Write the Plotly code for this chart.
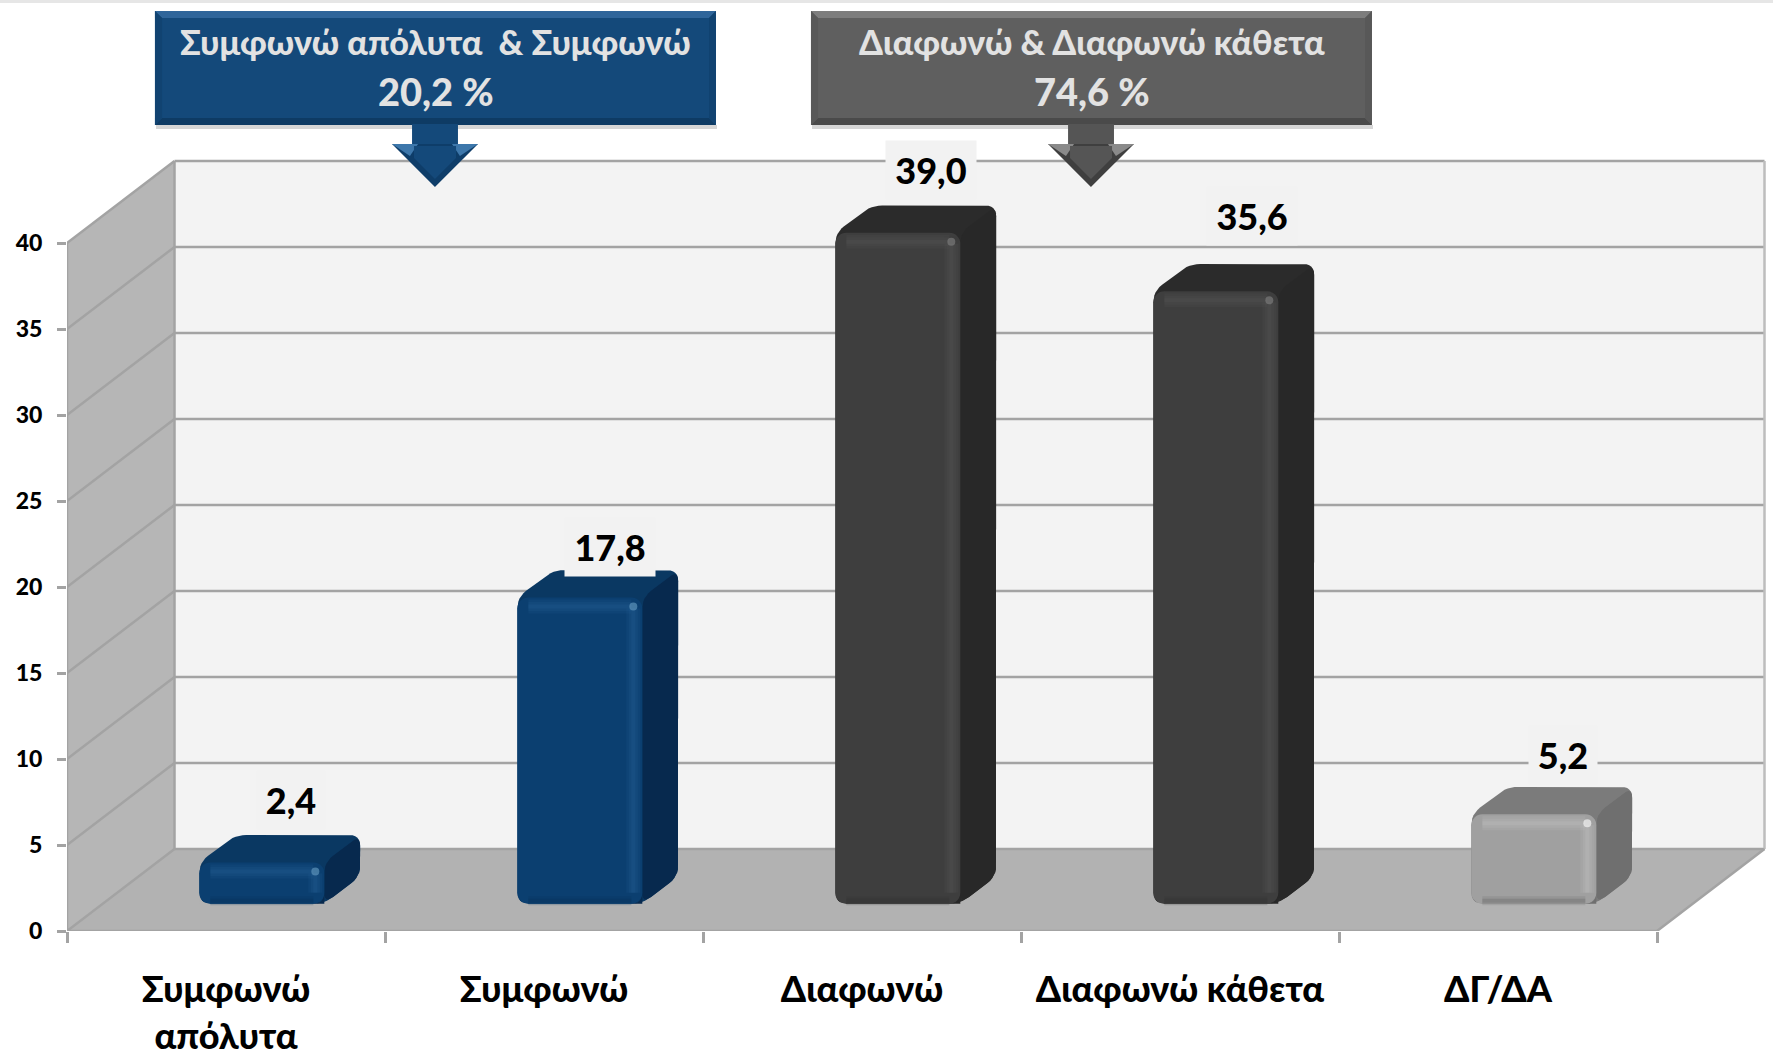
import plotly.graph_objects as go

categories = ["Συμφωνώ<br>απόλυτα", "Συμφωνώ", "Διαφωνώ", "Διαφωνώ κάθετα", "ΔΓ/ΔΑ"]
values = [2.4, 17.8, 39.0, 35.6, 5.2]
value_labels = ["2,4", "17,8", "39,0", "35,6", "5,2"]
y_ticks = [0, 5, 10, 15, 20, 25, 30, 35, 40]
callout_left = ["Συμφωνώ απόλυτα  & Συμφωνώ", "20,2 %"]
callout_right = ["Διαφωνώ & Διαφωνώ κάθετα", "74,6 %"]

FONT = "Lato, 'Noto Sans', sans-serif"
WEIGHT = 900
W, H = 1773, 1058
X0, Y0, UX, UV, DPX, DPY = 67, 931, 318.0, 17.2, 107.5, 82.0
DX, DY = DPX / UX, DPY / UV
XMAX, YMAX = 5.36, 45.0
BAR_W, D1, D2, R = 0.393, 1 / 3, 2 / 3, 11
GRID, WALL, FLOOR, BACK = "#a3a3a3", "#b6b6b6", "#b2b2b2", "#f3f3f3"

STYLES = [
    dict(front="#0b3f70", side="#07294e", top="#0a3862", bevel="#2a659a", low="#08325a", spot="#5d93bb"),
    dict(front="#0b3f70", side="#07294e", top="#0a3862", bevel="#2a659a", low="#08325a", spot="#5d93bb"),
    dict(front="#3e3e3e", side="#282828", top="#2b2b2b", bevel="#5a5a5a", low="#333333", spot="#7a7a7a"),
    dict(front="#3e3e3e", side="#282828", top="#2b2b2b", bevel="#5a5a5a", low="#333333", spot="#7a7a7a"),
    dict(front="#a0a0a0", side="#6f6f6f", top="#7b7b7b", bevel="#c8c8c8", low="#6a6a6a", spot="#f4f4f4"),
]
# label centre relative to the bar's rear top edge, pixels
LABEL_SHIFT = [(-7, 35), (-6, 23), (-3, 36), (0, 48), (-7, 32)]
LABEL_WIDTH = [66, 88, 88, 88, 66]


def proj(x, v, d):
    return x + d * DX, v + d * DY


def rounded(points, r):
    """Round the corners of a polygon given in data units; r is in pixels."""
    px = [(p[0] * UX, p[1] * UV) for p in points]
    out = []
    n = len(px)
    for i in range(n):
        a, b, c = px[i - 1], px[i], px[(i + 1) % n]
        la = ((a[0] - b[0]) ** 2 + (a[1] - b[1]) ** 2) ** 0.5
        lc = ((c[0] - b[0]) ** 2 + (c[1] - b[1]) ** 2) ** 0.5
        ra, rc = min(r, la / 2), min(r, lc / 2)
        s = (b[0] + (a[0] - b[0]) * ra / la, b[1] + (a[1] - b[1]) * ra / la)
        e = (b[0] + (c[0] - b[0]) * rc / lc, b[1] + (c[1] - b[1]) * rc / lc)
        for k in range(7):
            t = k / 6
            out.append((
                (1 - t) ** 2 * s[0] + 2 * t * (1 - t) * b[0] + t * t * e[0],
                (1 - t) ** 2 * s[1] + 2 * t * (1 - t) * b[1] + t * t * e[1],
            ))
    return [(p[0] / UX, p[1] / UV) for p in out]


def poly(pts, color, xa="x", ya="y"):
    xs = [p[0] for p in pts] + [pts[0][0]]
    ys = [p[1] for p in pts] + [pts[0][1]]
    return go.Scatter(x=xs, y=ys, mode="lines", fill="toself", fillcolor=color,
                      line=dict(width=0, color=color), hoverinfo="skip", showlegend=False,
                      xaxis=xa, yaxis=ya)


def stroke(x, y, color, width, opacity=1.0, xa="x2", ya="y2", clip=True):
    return go.Scatter(x=x, y=y, mode="lines", line=dict(color=color, width=width),
                      opacity=opacity, hoverinfo="skip", showlegend=False,
                      xaxis=xa, yaxis=ya, cliponaxis=clip)


def path(pts):
    return "M " + " L ".join(f"{a:.4f} {b:.4f}" for a, b in pts) + " Z"


def pp(x, y):
    return x / W, 1 - y / H


shapes = []
n = len(categories)
shapes.append(dict(type="path", xref="x", yref="y", layer="below", fillcolor=BACK, line=dict(width=0),
                   path=path([proj(0, 0, 1), proj(n, 0, 1), proj(n, 40, 1), proj(0, 40, 1)])))
shapes.append(dict(type="path", xref="x", yref="y", layer="below", fillcolor=WALL, line=dict(width=0),
                   path=path([proj(0, 0, 0), proj(0, 0, 1), proj(0, 40, 1), proj(0, 40, 0)])))
shapes.append(dict(type="path", xref="x", yref="y", layer="below", fillcolor=FLOOR, line=dict(width=0),
                   path=path([proj(0, 0, 0), proj(n, 0, 0), proj(n, 0, 1), proj(0, 0, 1)])))


def seg(a, b, color=GRID, width=2.5):
    shapes.append(dict(type="line", xref="x", yref="y", layer="below",
                       x0=a[0], y0=a[1], x1=b[0], y1=b[1], line=dict(color=color, width=width)))


for t in y_ticks:
    seg(proj(0, t, 0), proj(0, t, 1))
    seg(proj(0, t, 1), proj(n, t, 1))
seg(proj(0, 0, 1), proj(0, 40, 1))
seg(proj(n, 0, 1), proj(n, 40, 1), "#bdbdbd")
seg(proj(n, 0, 0), proj(n, 0, 1))

traces = [
    stroke([0, 0], [0, 40], GRID, 2.5, xa="x", ya="y", clip=False),
    stroke([0, n], [0, 0], GRID, 2.5, xa="x", ya="y", clip=False),
]
fronts = []
overlays = []
annotations = []
for i, v in enumerate(values):
    s = STYLES[i]
    xl, xr = i + 0.5 - BAR_W / 2, i + 0.5 + BAR_W / 2
    hexagon = [proj(xl, 0, D1), proj(xl, v, D1), proj(xl, v, D2),
               proj(xr, v, D2), proj(xr, 0, D2), proj(xr, 0, D1)]
    traces.append(poly(rounded(hexagon, R), s["top"]))
    side = [proj(xr, v, D1), proj(xr, v, D2), proj(xr, 0, D2), proj(xr, 0, D1)]
    traces.append(poly(rounded(side, R), s["side"]))

    fx, fb = proj(i + 0.5, 0, D1)
    fronts.append(go.Bar(x=[fx], y=[v], base=[fb], width=[BAR_W], marker=dict(color=s["front"], line=dict(width=0)),
                         xaxis="x2", yaxis="y2", showlegend=False, name=categories[i].replace("<br>", " "),
                         hovertemplate=value_labels[i] + "<extra></extra>"))
    a, b = proj(xl, 0, D1), proj(xr, 0, D1)
    rx, ry = R / UX, R / UV
    # square lower corners of the bar trace are trimmed back to the floor
    overlays.append(poly([a] + [(a[0] + rx * (k / 6) ** 2, a[1] + ry * (1 - k / 6) ** 2) for k in range(7)],
                         FLOOR, "x2", "y2"))
    overlays.append(poly([b] + [(b[0] - rx * (k / 6) ** 2, b[1] + ry * (1 - k / 6) ** 2) for k in range(7)],
                         s["side"], "x2", "y2"))
    # soft bevel highlights
    ins_x, ins_y = 9 / UX, 9 / UV
    top_y = fb + v
    for wd, op in ((14, 0.14), (9, 0.16), (4, 0.2)):
        overlays.append(stroke([a[0] + rx, b[0] - rx], [top_y - ins_y, top_y - ins_y], s["bevel"], wd, op))
        overlays.append(stroke([b[0] - ins_x, b[0] - ins_x], [fb + ry, top_y - ry], s["bevel"], wd, op))
    for wd, op in ((9, 0.2), (4, 0.35)):
        overlays.append(stroke([a[0] + rx, b[0] - rx], [fb + 3 / UV, fb + 3 / UV], s["low"], wd, op))
    overlays.append(go.Scatter(x=[b[0] - ins_x], y=[top_y - ins_y], mode="markers",
                               marker=dict(size=8, color=s["spot"], line=dict(width=0)), opacity=0.7,
                               hoverinfo="skip", showlegend=False, xaxis="x2", yaxis="y2"))
    lx, ly = proj(i + 0.5, v, D2)
    sx, sy = LABEL_SHIFT[i]
    annotations.append(dict(x=lx, y=ly, xref="x", yref="y", text=value_labels[i], showarrow=False,
                            xanchor="center", yanchor="middle", xshift=sx, yshift=sy,
                            width=LABEL_WIDTH[i], height=56, bgcolor="#f2f2f2", align="center",
                            font=dict(family=FONT, size=36, color="#000000", weight=WEIGHT)))


def callout(x0, x1, y0, y1, main, top, bottom, side, text):
    def add(points, color):
        shapes.append(dict(type="path", xref="paper", yref="paper", layer="above", fillcolor=color,
                           line=dict(width=0), path=path([pp(*p) for p in points])))
    add([(x0 + 1, y1), (x1 + 1, y1), (x1 + 1, y1 + 4), (x0 + 1, y1 + 4)], "rgba(120,120,120,0.3)")
    add([(x0, y0), (x1, y0), (x1, y1), (x0, y1)], main)
    add([(x0, y0), (x1, y0), (x1 - 7, y0 + 7), (x0 + 7, y0 + 7)], top)
    add([(x0, y1), (x1, y1), (x1 - 7, y1 - 7), (x0 + 7, y1 - 7)], bottom)
    add([(x0, y0), (x0 + 7, y0 + 7), (x0 + 7, y1 - 7), (x0, y1)], side)
    add([(x1, y0), (x1 - 7, y0 + 7), (x1 - 7, y1 - 7), (x1, y1)], side)
    cx = (x0 + x1) / 2 / W
    annotations.append(dict(x=cx, y=1 - 41 / H, xref="paper", yref="paper", showarrow=False, text=text[0],
                            xanchor="center", yanchor="middle",
                            font=dict(family=FONT, size=34, color="#e2e2e2", weight=WEIGHT)))
    annotations.append(dict(x=cx, y=1 - 91 / H, xref="paper", yref="paper", showarrow=False, text=text[1],
                            xanchor="center", yanchor="middle",
                            font=dict(family=FONT, size=38, color="#e2e2e2", weight=WEIGHT)))


def arrow(cx, shaft, head, y0, y1, tip, main, dark, light):
    def add(points, color):
        shapes.append(dict(type="path", xref="paper", yref="paper", layer="above", fillcolor=color,
                           line=dict(width=0), path=path([pp(*p) for p in points])))
    add([(cx - shaft, y0), (cx + shaft, y0), (cx + shaft, y1 + 6), (cx - shaft, y1 + 6)], main)
    add([(cx - head, y1), (cx + head, y1), (cx, tip)], dark)
    add([(cx - head, y1), (cx - shaft + 6, y1), (cx - head + 18, y1 + 12)], light)
    add([(cx + head, y1), (cx + shaft - 6, y1), (cx + head - 18, y1 + 12)], light)
    add([(cx - shaft + 2, y1 + 2), (cx + shaft - 2, y1 + 2), (cx + shaft - 2, y1 + 14), (cx, tip - 8), (cx - shaft + 2, y1 + 14)], main)


callout(155, 716, 11, 125, "#14497a", "#2f659a", "#0e3b64", "#114371", callout_left)
callout(811, 1372, 11, 125, "#5f5f5f", "#7d7d7d", "#4a4a4a", "#585858", callout_right)
arrow(435, 23, 43, 124, 144, 187, "#14497a", "#0e3d69", "#3d77ab")
arrow(1091, 23, 43, 124, 144, 187, "#555555", "#3f3f3f", "#8a8a8a")
shapes.append(dict(type="rect", xref="paper", yref="paper", layer="above", x0=0, x1=1, y0=1 - 3 / H, y1=1,
                   fillcolor="#e6e6e6", line=dict(width=0)))

fig = go.Figure(data=traces + fronts + overlays)
fig.update_layout(
    width=W, height=H, margin=dict(l=0, r=0, t=0, b=0), autosize=False,
    paper_bgcolor="#ffffff", plot_bgcolor="rgba(0,0,0,0)", showlegend=False,
    barmode="overlay", barcornerradius=R, shapes=shapes, annotations=annotations,
    font=dict(family=FONT),
    xaxis=dict(
        domain=[X0 / W, (X0 + XMAX * UX) / W], range=[0, XMAX], showgrid=False, zeroline=False, showline=False,
        automargin=False, tickmode="array", tickvals=[i + 0.5 for i in range(n)], ticktext=categories,
        ticks="", ticklabelstandoff=34, tickfont=dict(family=FONT, size=36, color="#000000", weight=WEIGHT),
        minor=dict(tickmode="array", tickvals=list(range(n + 1)), ticks="outside", ticklen=11,
                   tickwidth=2.5, tickcolor=GRID, showgrid=False),
    ),
    yaxis=dict(
        domain=[(H - Y0) / H, (H - (Y0 - YMAX * UV)) / H], range=[0, YMAX], showgrid=False, zeroline=False,
        showline=False, automargin=False, tickmode="array", tickvals=y_ticks, ticktext=[str(t) for t in y_ticks],
        ticks="outside", ticklen=9, tickwidth=2.5, tickcolor=GRID, ticklabelstandoff=10,
        tickfont=dict(family=FONT, size=23, color="#000000", weight=WEIGHT),
    ),
    xaxis2=dict(overlaying="x", matches="x", visible=False),
    yaxis2=dict(overlaying="y", matches="y", visible=False),
)
fig.write_html("out.html", config=dict(displayModeBar=False),
               post_script="document.body.style.margin='0';")
